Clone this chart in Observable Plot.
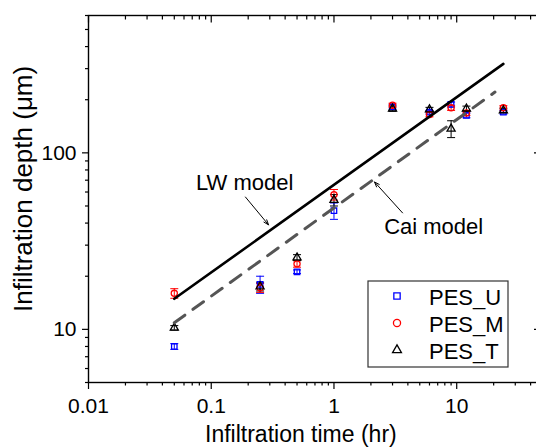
<!DOCTYPE html>
<html><head><meta charset="utf-8">
<script src="https://cdn.jsdelivr.net/npm/d3@7"></script>
<script src="https://cdn.jsdelivr.net/npm/@observablehq/plot@0.6"></script>
<style>body{margin:0;background:#fff} #chart svg{display:block}</style>
</head><body><div id="chart"></div>
<script>
// ---- data ----
const time = [0.05, 0.25, 0.5, 1, 3, 6, 9, 12, 24];
const pesU = [8, 18, 21.2, 47, 182, 170, 188, 163, 170];
const pesUErr = [0.3, 2, 0.5, 5, 5, 4, 6, 5, 4];
const pesM = [16, 17.2, 23.5, 58, 186, 165, 180, 168, 180];
const pesMErr = [1, 1, 1, 4, 5, 5, 6, 5, 5];
const pesT = [10.2, 17.5, 25.5, 54, 178, 176, 137, 178, 174];
const pesTErr = [0.3, 1, 1, 4, 6, 5, 15, 6, 5];
const seriesNames = ["PES_U", "PES_M", "PES_T"];
const seriesColors = ["#0000ff", "#ff0000", "#000000"];
const seriesSymbols = ["square", "circle", "triangle"];
const lwTime = [0.05, 24];
const lwDepth = [14.9, 319];
const caiTime = [0.05, 20.5];
const caiDepth = [10.9, 221];
const xTickValues = [0.01, 0.1, 1, 10];
const yTickValues = [10, 100];
const annotLabels = ["LW model", "Cai model"];
const annotX = [0.187, 6.49];
const annotY = [67.4, 38.1];
const arrowFromX = [0.190, 3.62];
const arrowFromY = [56.2, 45.7];
const arrowToX = [0.293, 2.14];
const arrowToY = [39.1, 68.4];

const xDomain = [0.01, 50];
const yDomain = [5, 600];

const rows = [];
[[pesU, pesUErr], [pesM, pesMErr], [pesT, pesTErr]].forEach(([vals, errs], k) => {
  time.forEach((t, i) => rows.push({t, v: vals[i], e: errs[i], s: seriesNames[k]}));
});
const lwRows = lwTime.map((t, i) => ({t, d: lwDepth[i]}));
const caiRows = caiTime.map((t, i) => ({t, d: caiDepth[i]}));
const annots = annotLabels.map((label, i) => ({label, x: annotX[i], y: annotY[i],
  x1: arrowFromX[i], y1: arrowFromY[i], x2: arrowToX[i], y2: arrowToY[i]}));

const xMinor = d3.scaleLog().domain(xDomain).ticks().filter(v => !xTickValues.some(m => Math.abs(m - v) / m < 1e-9));
const yMinor = d3.scaleLog().domain(yDomain).ticks().filter(v => !yTickValues.some(m => Math.abs(m - v) / m < 1e-9));

const capSymbol = {draw(ctx) { ctx.moveTo(-4, 0); ctx.lineTo(4, 0); }};
const font = "'Liberation Sans', Arial, sans-serif";
const blank = () => "";

const plot = Plot.plot({
  width: 536, height: 448,
  marginLeft: 88, marginRight: -6, marginTop: 15, marginBottom: 66,
  x: {type: "log", domain: xDomain, label: null},
  y: {type: "log", domain: yDomain, label: null},
  color: {domain: seriesNames, range: seriesColors},
  symbol: {domain: seriesNames, range: seriesSymbols},
  style: {fontFamily: font, color: "#000", background: "#fff"},
  marks: [
    Plot.axisX({ticks: xTickValues, tickSize: 7, tickPadding: 9, fontSize: 21, tickFormat: d => String(d), label: null, strokeWidth: 1.2}),
    Plot.axisX({ticks: xMinor, tickSize: 3.5, tickFormat: blank, label: null, strokeWidth: 1.2}),
    Plot.axisX({anchor: "top", ticks: xTickValues, tickSize: -6.5, tickPadding: 0, tickFormat: blank, label: null, strokeWidth: 1.2}),
    Plot.axisX({anchor: "top", ticks: xMinor, tickSize: -3.5, tickPadding: 0, tickFormat: blank, label: null, strokeWidth: 1.2}),
    Plot.axisY({ticks: yTickValues, tickSize: 6, tickPadding: 6, fontSize: 21, tickFormat: d => String(d), label: null, strokeWidth: 1.2}),
    Plot.axisY({ticks: yMinor, tickSize: 3, tickFormat: blank, label: null, strokeWidth: 1.2}),
    Plot.axisY({anchor: "right", ticks: yTickValues, tickSize: -9, tickPadding: 0, tickFormat: blank, label: null, strokeWidth: 1.2}),
    Plot.frame({stroke: "#000", strokeWidth: 1.4}),
    Plot.ruleX(rows, {x: "t", y1: d => d.v - d.e, y2: d => d.v + d.e, stroke: "s", strokeWidth: 1}),
    Plot.dot(rows, {x: "t", y: d => d.v + d.e, symbol: capSymbol, stroke: "s", strokeWidth: 1, r: 4}),
    Plot.dot(rows, {x: "t", y: d => d.v - d.e, symbol: capSymbol, stroke: "s", strokeWidth: 1, r: 4}),
    Plot.dot(rows, {x: "t", y: "v", symbol: "s", stroke: "s", fill: "none", strokeWidth: 1.3,
      r: d => d.s === "PES_T" ? 4.3 : 4.5}),
    Plot.line(lwRows, {x: "t", y: "d", stroke: "#000", strokeWidth: 2.6}),
    Plot.line(caiRows, {x: "t", y: "d", stroke: "#555", strokeWidth: 3, strokeDasharray: "13,10"}),
    Plot.arrow(annots, {x1: "x1", y1: "y1", x2: "x2", y2: "y2", stroke: "#000", strokeWidth: 1, headLength: 8, headAngle: 40}),
    Plot.text(annots, {x: "x", y: "y", text: "label", fontSize: 22, fill: "#000", textAnchor: "middle", lineAnchor: "middle"})
  ]
});

const svg = d3.select(plot);
// axis titles
svg.append("text").attr("x", 205).attr("y", 442).attr("font-size", 23).attr("font-family", font)
  .attr("text-anchor", "start").attr("fill", "#000").text("Infiltration time (hr)");
svg.append("text").attr("transform", "translate(32,312) rotate(-90)").attr("font-size", 26)
  .attr("text-anchor", "start").attr("font-family", font).attr("fill", "#000").text("Infiltration depth (μm)");

// legend
const lg = svg.append("g");
lg.append("rect").attr("x", 368).attr("y", 281).attr("width", 140).attr("height", 86)
  .attr("fill", "#fff").attr("stroke", "#333").attr("stroke-width", 1.2);
const symTypes = {square: d3.symbolSquare, circle: d3.symbolCircle, triangle: d3.symbolTriangle};
seriesNames.forEach((name, i) => {
  const cy = 296 + i * 27;
  lg.append("path").attr("transform", `translate(397,${cy})`)
    .attr("d", d3.symbol(symTypes[seriesSymbols[i]], seriesSymbols[i] === "triangle" ? 34 : 40)())
    .attr("fill", "none").attr("stroke", seriesColors[i]).attr("stroke-width", 1.3);
  lg.append("text").attr("x", 429).attr("y", cy + 8.5).attr("font-size", 22).attr("font-family", font)
    .attr("text-anchor", "start").attr("fill", "#000").text(name);
});

document.getElementById("chart").appendChild(plot);
</script></body></html>
